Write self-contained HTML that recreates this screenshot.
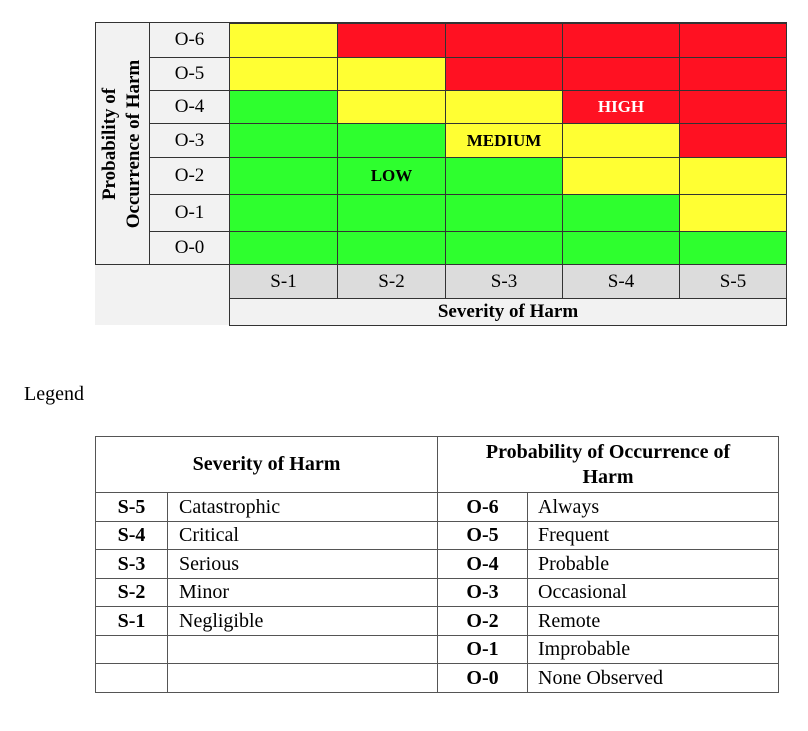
<!DOCTYPE html>
<html><head><meta charset="utf-8"><style>
*{font-family:"Liberation Serif","Times New Roman",Times,"DejaVu Serif",serif}
body{margin:0;width:808px;height:731px;background:#fff;position:relative;color:#000;overflow:hidden}
.a{position:absolute;box-sizing:border-box;display:flex;align-items:center;justify-content:center}
.c{border:1px solid #333}
.Y{background:#ffff33}.R{background:#ff1122}.G{background:#2eff2e}
.l{font-size:19px}
.b{font-weight:bold}
.lt{position:absolute;box-sizing:border-box;border:1px solid #555;font-size:20px;display:flex;align-items:center}
</style></head><body>
<div class="a" style="left:95px;top:22px;width:134px;height:303px;background:#f2f2f2"></div>
<div class="a c" style="left:95px;top:22px;width:55px;height:243px;background:#f2f2f2"></div>
<div class="a" style="left:95px;top:22px;width:55px;height:243px"><div style="transform:rotate(-90deg);white-space:nowrap;font-weight:bold;font-size:19px;line-height:24px;text-align:center">Probability of<br>Occurrence of Harm</div></div>
<div class="a c l" style="left:149px;top:22px;width:81px;height:36px;background:#f2f2f2">O-6</div>
<div class="a c l" style="left:149px;top:57px;width:81px;height:34px;background:#f2f2f2">O-5</div>
<div class="a c l" style="left:149px;top:90px;width:81px;height:34px;background:#f2f2f2">O-4</div>
<div class="a c l" style="left:149px;top:123px;width:81px;height:35px;background:#f2f2f2">O-3</div>
<div class="a c l" style="left:149px;top:157px;width:81px;height:38px;background:#f2f2f2">O-2</div>
<div class="a c l" style="left:149px;top:194px;width:81px;height:38px;background:#f2f2f2">O-1</div>
<div class="a c l" style="left:149px;top:231px;width:81px;height:34px;background:#f2f2f2">O-0</div>
<div class="a c Y" style="left:229px;top:22px;width:109px;height:36px;border-top:2px solid #333"></div>
<div class="a c R" style="left:337px;top:22px;width:109px;height:36px;border-top:2px solid #333"></div>
<div class="a c R" style="left:445px;top:22px;width:118px;height:36px;border-top:2px solid #333"></div>
<div class="a c R" style="left:562px;top:22px;width:118px;height:36px;border-top:2px solid #333"></div>
<div class="a c R" style="left:679px;top:22px;width:108px;height:36px;border-top:2px solid #333"></div>
<div class="a c Y" style="left:229px;top:57px;width:109px;height:34px"></div>
<div class="a c Y" style="left:337px;top:57px;width:109px;height:34px"></div>
<div class="a c R" style="left:445px;top:57px;width:118px;height:34px"></div>
<div class="a c R" style="left:562px;top:57px;width:118px;height:34px"></div>
<div class="a c R" style="left:679px;top:57px;width:108px;height:34px"></div>
<div class="a c G" style="left:229px;top:90px;width:109px;height:34px"></div>
<div class="a c Y" style="left:337px;top:90px;width:109px;height:34px"></div>
<div class="a c Y" style="left:445px;top:90px;width:118px;height:34px"></div>
<div class="a c R b" style="left:562px;top:90px;width:118px;height:34px;color:#fff;font-size:17px">HIGH</div>
<div class="a c R" style="left:679px;top:90px;width:108px;height:34px"></div>
<div class="a c G" style="left:229px;top:123px;width:109px;height:35px"></div>
<div class="a c G" style="left:337px;top:123px;width:109px;height:35px"></div>
<div class="a c Y b" style="left:445px;top:123px;width:118px;height:35px;font-size:17px">MEDIUM</div>
<div class="a c Y" style="left:562px;top:123px;width:118px;height:35px"></div>
<div class="a c R" style="left:679px;top:123px;width:108px;height:35px"></div>
<div class="a c G" style="left:229px;top:157px;width:109px;height:38px"></div>
<div class="a c G b" style="left:337px;top:157px;width:109px;height:38px;font-size:17px">LOW</div>
<div class="a c G" style="left:445px;top:157px;width:118px;height:38px"></div>
<div class="a c Y" style="left:562px;top:157px;width:118px;height:38px"></div>
<div class="a c Y" style="left:679px;top:157px;width:108px;height:38px"></div>
<div class="a c G" style="left:229px;top:194px;width:109px;height:38px"></div>
<div class="a c G" style="left:337px;top:194px;width:109px;height:38px"></div>
<div class="a c G" style="left:445px;top:194px;width:118px;height:38px"></div>
<div class="a c G" style="left:562px;top:194px;width:118px;height:38px"></div>
<div class="a c Y" style="left:679px;top:194px;width:108px;height:38px"></div>
<div class="a c G" style="left:229px;top:231px;width:109px;height:34px"></div>
<div class="a c G" style="left:337px;top:231px;width:109px;height:34px"></div>
<div class="a c G" style="left:445px;top:231px;width:118px;height:34px"></div>
<div class="a c G" style="left:562px;top:231px;width:118px;height:34px"></div>
<div class="a c G" style="left:679px;top:231px;width:108px;height:34px"></div>
<div class="a c l" style="left:229px;top:264px;width:109px;height:35px;background:#dcdcdc">S-1</div>
<div class="a c l" style="left:337px;top:264px;width:109px;height:35px;background:#dcdcdc">S-2</div>
<div class="a c l" style="left:445px;top:264px;width:118px;height:35px;background:#dcdcdc">S-3</div>
<div class="a c l" style="left:562px;top:264px;width:118px;height:35px;background:#dcdcdc">S-4</div>
<div class="a c l" style="left:679px;top:264px;width:108px;height:35px;background:#dcdcdc">S-5</div>
<div class="a c b" style="left:229px;top:298px;width:558px;height:28px;background:#f2f2f2;font-size:19px">Severity of Harm</div>

<div style="position:absolute;left:24px;top:383px;font-size:20px">Legend</div>

<div class="lt b" style="left:95px;top:436px;width:343px;height:57px;justify-content:center">Severity of Harm</div>
<div class="lt b" style="left:437px;top:436px;width:342px;height:57px;justify-content:center;text-align:center;line-height:25px">Probability of Occurrence of<br>Harm</div>

<div class="lt b" style="left:95px;top:492px;width:73px;height:30px;justify-content:center">S-5</div>
<div class="lt" style="left:167px;top:492px;width:271px;height:30px;padding-left:11px">Catastrophic</div>
<div class="lt b" style="left:437px;top:492px;width:91px;height:30px;justify-content:center">O-6</div>
<div class="lt" style="left:527px;top:492px;width:252px;height:30px;padding-left:10px">Always</div>

<div class="lt b" style="left:95px;top:521px;width:73px;height:29px;justify-content:center">S-4</div>
<div class="lt" style="left:167px;top:521px;width:271px;height:29px;padding-left:11px">Critical</div>
<div class="lt b" style="left:437px;top:521px;width:91px;height:29px;justify-content:center">O-5</div>
<div class="lt" style="left:527px;top:521px;width:252px;height:29px;padding-left:10px">Frequent</div>

<div class="lt b" style="left:95px;top:549px;width:73px;height:30px;justify-content:center">S-3</div>
<div class="lt" style="left:167px;top:549px;width:271px;height:30px;padding-left:11px">Serious</div>
<div class="lt b" style="left:437px;top:549px;width:91px;height:30px;justify-content:center">O-4</div>
<div class="lt" style="left:527px;top:549px;width:252px;height:30px;padding-left:10px">Probable</div>

<div class="lt b" style="left:95px;top:578px;width:73px;height:29px;justify-content:center">S-2</div>
<div class="lt" style="left:167px;top:578px;width:271px;height:29px;padding-left:11px">Minor</div>
<div class="lt b" style="left:437px;top:578px;width:91px;height:29px;justify-content:center">O-3</div>
<div class="lt" style="left:527px;top:578px;width:252px;height:29px;padding-left:10px">Occasional</div>

<div class="lt b" style="left:95px;top:606px;width:73px;height:30px;justify-content:center">S-1</div>
<div class="lt" style="left:167px;top:606px;width:271px;height:30px;padding-left:11px">Negligible</div>
<div class="lt b" style="left:437px;top:606px;width:91px;height:30px;justify-content:center">O-2</div>
<div class="lt" style="left:527px;top:606px;width:252px;height:30px;padding-left:10px">Remote</div>

<div class="lt" style="left:95px;top:635px;width:73px;height:29px"></div>
<div class="lt" style="left:167px;top:635px;width:271px;height:29px"></div>
<div class="lt b" style="left:437px;top:635px;width:91px;height:29px;justify-content:center">O-1</div>
<div class="lt" style="left:527px;top:635px;width:252px;height:29px;padding-left:10px">Improbable</div>

<div class="lt" style="left:95px;top:663px;width:73px;height:30px"></div>
<div class="lt" style="left:167px;top:663px;width:271px;height:30px"></div>
<div class="lt b" style="left:437px;top:663px;width:91px;height:30px;justify-content:center">O-0</div>
<div class="lt" style="left:527px;top:663px;width:252px;height:30px;padding-left:10px">None Observed</div>
</body></html>
